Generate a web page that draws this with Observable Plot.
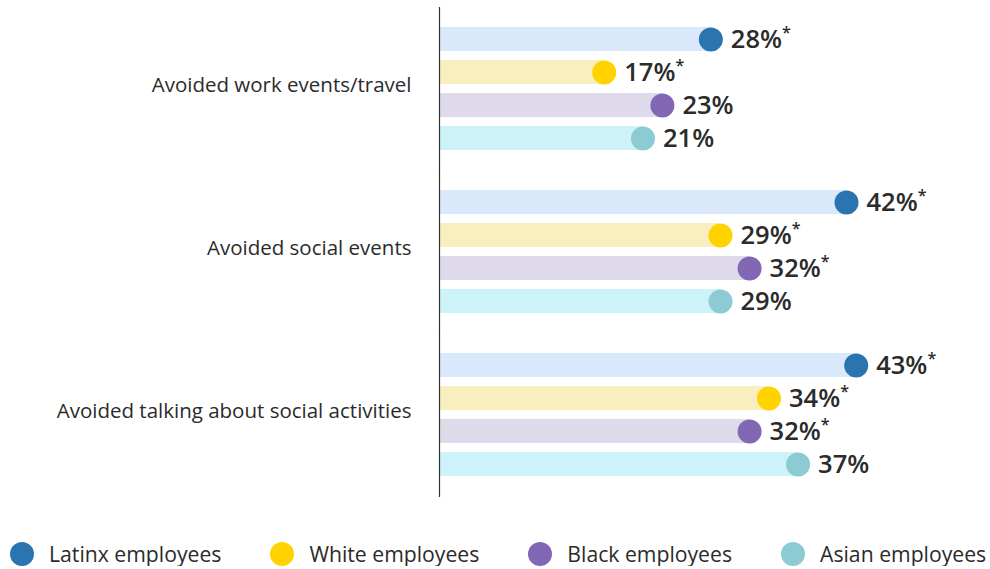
<!DOCTYPE html>
<html>
<head>
<meta charset="utf-8">
<script src="https://cdn.jsdelivr.net/npm/d3@7"></script>
<script src="https://cdn.jsdelivr.net/npm/@observablehq/plot@0.6"></script>
<style>
  body { margin: 0; background: #fff; font-family: "Open Sans", sans-serif; }
  #chart svg { display: block; }
  .legend { display: flex; align-items: center; gap: 49px; margin-top: 30px; padding-left: 10px; font-size: 21.2px; color: #2b2b2b; line-height: 24px; }
  .legend .item { display: flex; align-items: center; gap: 15px; }
  .legend .sw { width: 24px; height: 24px; border-radius: 50%; }
</style>
</head>
<body>
<div id="chart"></div>
<script>
const categories = ["Avoided work events/travel", "Avoided social events", "Avoided talking about social activities"];
const series = ["Latinx employees", "White employees", "Black employees", "Asian employees"];
const latinx = [28, 42, 43];
const white = [17, 29, 34];
const black = [23, 32, 32];
const asian = [21, 29, 37];
const latinxSig = [true, true, true];
const whiteSig = [true, true, true];
const blackSig = [false, true, true];
const asianSig = [false, false, false];
const dotColors = ["#2a74b0", "#ffd200", "#8167b4", "#8ccbd4"];
const barColors = ["#d9e9fb", "#f8eebe", "#dedae9", "#cdf2f7"];

const values = [latinx, white, black, asian];
const sigs = [latinxSig, whiteSig, blackSig, asianSig];
const rows = [];
categories.forEach((c, ci) => {
  series.forEach((s, si) => {
    rows.push({category: c, series: s, si, value: values[si][ci], sig: sigs[si][ci]});
  });
});

const textColor = "#2b2b2b";

const plot = Plot.plot({
  width: 990,
  height: 512,
  marginLeft: 439,
  marginRight: 18,
  marginTop: 21,
  marginBottom: 30,
  style: {fontFamily: "'Open Sans', sans-serif", background: "#fff"},
  x: {domain: [0, 55], axis: null},
  y: {domain: series, axis: null, paddingInner: 0.28, paddingOuter: 0.14},
  fy: {domain: categories, paddingInner: 0.185, paddingOuter: 0, label: null},
  marks: [
    Plot.barX(rows, {x: "value", y: "series", fy: "category", fill: d => barColors[d.si]}),
    Plot.ruleX([0], {stroke: "#333", strokeWidth: 1.2, insetTop: -15, insetBottom: -16}),
    Plot.dot(rows, {x: "value", y: "series", fy: "category", r: 12, fill: d => dotColors[d.si], stroke: null}),
    Plot.text(rows, {x: "value", y: "series", fy: "category", dx: 20, textAnchor: "start",
      text: d => d.value + "%" + (d.sig ? "*" : ""), fontSize: 25.5, fontWeight: 600, fill: textColor}),
    Plot.axisFy({anchor: "left", tickSize: 0, tickPadding: 28, fontSize: 20.5, label: null, fill: textColor, dy: -4})
  ]
});

// raise the significance asterisks as superscripts
d3.select(plot).selectAll("text").each(function() {
  const t = this.textContent;
  if (/%\*$/.test(t)) {
    const sel = d3.select(this);
    sel.text(t.slice(0, -1));
    sel.append("tspan").attr("font-size", 16).attr("dy", -10).text("*");
  }
});

document.getElementById("chart").appendChild(plot);

const legend = document.createElement("div");
legend.className = "legend";
series.forEach((s, i) => {
  const item = document.createElement("div");
  item.className = "item";
  const sw = document.createElement("span");
  sw.className = "sw";
  sw.style.background = dotColors[i];
  const lab = document.createElement("span");
  lab.textContent = s;
  item.appendChild(sw);
  item.appendChild(lab);
  legend.appendChild(item);
});
document.body.appendChild(legend);
</script>
</body>
</html>
